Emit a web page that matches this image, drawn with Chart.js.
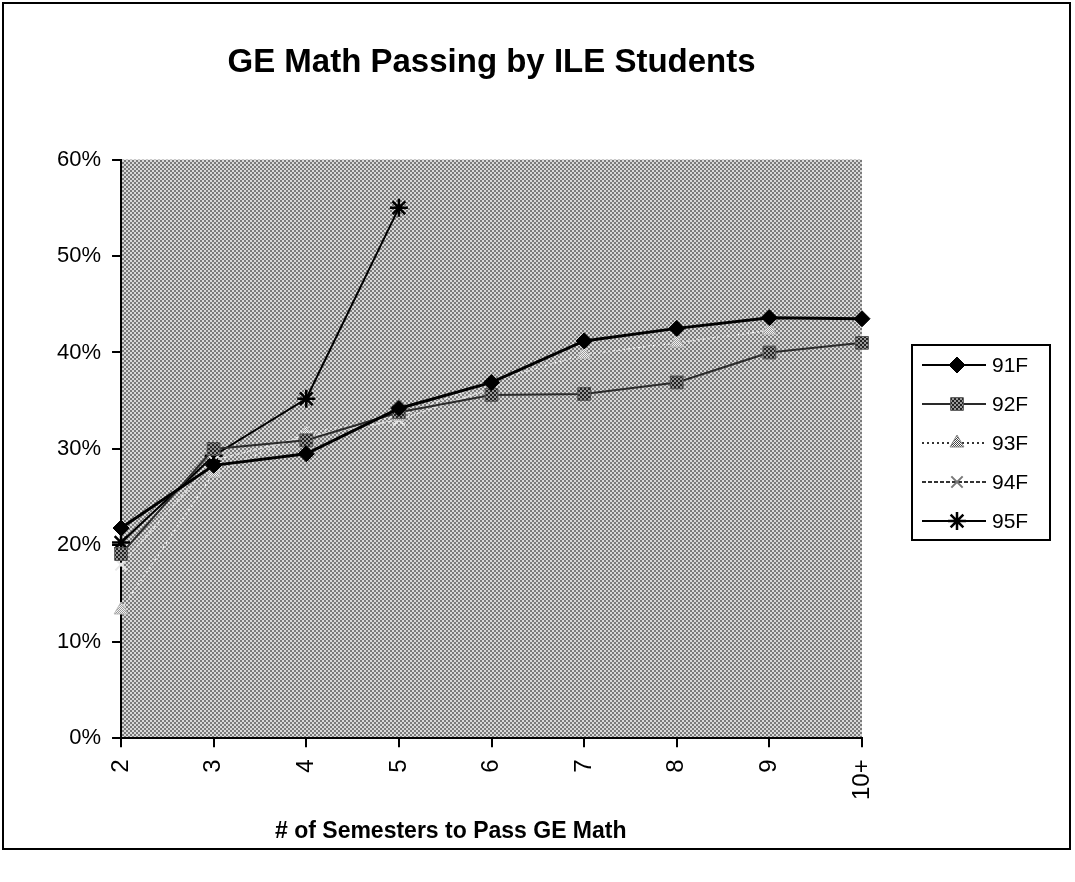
<!DOCTYPE html>
<html>
<head>
<meta charset="utf-8">
<script src="https://cdn.jsdelivr.net/npm/chart.js@4/dist/chart.umd.min.js"></script>
<style>
  body { margin: 0; background: #fff; }
  #wrap { width: 1075px; height: 882px; }
</style>
</head>
<body>
<div id="wrap"><canvas id="ge-math-chart" width="1075" height="882"></canvas></div>
<script>
const semesters = ['2','3','4','5','6','7','8','9','10+'];
const yTicks = [0,10,20,30,40,50,60];
const f91 = [21.8, 28.3, 29.5, 34.2, 36.9, 41.2, 42.5, 43.6, 43.5];
const f92 = [19.1, 30.0, 30.9, 33.8, 35.6, 35.7, 36.9, 40.0, 41.0];
const f93 = [13.3, 27.5, 31.6, 33.4, 37.0, 39.8, 41.0, 42.3, null];
const f94 = [18.0, 28.8, 31.3, 33.0, 36.3, null, null, null, null];
const f95 = [20.3, 29.3, 35.2, 55.0, null, null, null, null, null];
const xTitle = '# of Semesters to Pass GE Math';

const FONT = "'Liberation Sans', Arial, sans-serif";

// halftone-ish checker patterns
function checker(dark, light, cell) {
    let c = document.createElement('canvas');
    c.width = cell * 2; c.height = cell * 2;
    let g = c.getContext('2d');
    g.fillStyle = light; g.fillRect(0, 0, c.width, c.height);
    g.fillStyle = dark;
    g.fillRect(0, 0, cell, cell);
    g.fillRect(cell, cell, cell, cell);
    return g.createPattern(c, 'repeat');
}
const ctx = document.getElementById('ge-math-chart').getContext('2d');
const plotFill = checker('#7a7a7a', '#d8d8d8', 2);
const darkFill = checker('#222222', '#9a9a9a', 2);
const lightFill = checker('#9a9a9a', '#f2f2f2', 1);
const legendLight = checker('#444444', '#ffffff', 1);

const backdrop = {
    id: 'backdrop',
    beforeDraw(chart) {
        const c = chart.ctx, a = chart.chartArea;
        c.save();
        c.fillStyle = '#fff';
        c.fillRect(0, 0, chart.width, chart.height);
        c.fillStyle = plotFill;
        c.fillRect(a.left, a.top, a.right - a.left, a.bottom - a.top);
        c.strokeStyle = '#000';
        c.lineWidth = 2;
        c.strokeRect(3, 3, chart.width - 8, 846);
        c.restore();
    },
    // axis title sits a little left of the plot centre in the original
    afterDraw(chart) {
        const c = chart.ctx, a = chart.chartArea;
        c.save();
        c.fillStyle = '#000';
        c.font = 'bold 23px ' + FONT;
        c.textAlign = 'center';
        c.textBaseline = 'middle';
        c.fillText(xTitle, a.left + (a.right - a.left) * 0.445, 832);
        c.restore();
    }
};

// legend drawn as line + marker like the original, with a box round it
const boxLegend = {
    id: 'boxLegend',
    afterDraw(chart) {
        const c = chart.ctx, a = chart.chartArea;
        const left = a.right + 50, top = 345, w = 138, h = 195;
        c.save();
        c.fillStyle = '#fff';
        c.fillRect(left, top, w, h);
        c.strokeStyle = '#000';
        c.lineWidth = 2;
        c.strokeRect(left, top, w, h);
        chart.data.datasets.forEach((ds, i) => {
            const y = top + 20 + i * 39;
            c.save();
            c.strokeStyle = ds.legendLine || ds.borderColor;
            c.lineWidth = 2;
            c.setLineDash(ds.borderDash || []);
            c.beginPath();
            c.moveTo(left + 10, y);
            c.lineTo(left + 74, y);
            c.stroke();
            c.restore();
            c.fillStyle = ds.legendFill || ds.pointBackgroundColor;
            c.strokeStyle = ds.legendPoint || ds.pointBorderColor;
            c.lineWidth = ds.pointBorderWidth || 1;
            Chart.helpers.drawPoint(c, {
                pointStyle: ds.pointStyle,
                radius: ds.pointRadius,
                borderWidth: ds.pointBorderWidth || 1,
                rotation: 0
            }, left + 45, y);
            c.fillStyle = '#000';
            c.font = '21px ' + FONT;
            c.textBaseline = 'middle';
            c.fillText(ds.label, left + 80, y + 1);
        });
        c.restore();
    }
};

new Chart(ctx, {
    type: 'line',
    data: {
        labels: semesters,
        datasets: [{
            label: '91F',
            data: f91,
            borderColor: '#000',
            borderWidth: 3,
            pointStyle: 'rectRot',
            pointRadius: 8,
            pointBackgroundColor: '#000',
            pointBorderColor: '#000',
            pointBorderWidth: 1
        },
        {
            label: '92F',
            data: f92,
            borderColor: '#2a2a2a',
            borderWidth: 2,
            pointStyle: 'rect',
            pointRadius: 9,
            pointBackgroundColor: darkFill,
            pointBorderColor: '#555',
            pointBorderWidth: 1
        },
        {
            label: '93F',
            data: f93,
            borderColor: '#e6e6e6',
            legendLine: '#333',
            legendFill: legendLight,
            legendPoint: '#888',
            borderWidth: 1.5,
            borderDash: [2, 3],
            pointStyle: 'triangle',
            pointRadius: 8,
            pointBackgroundColor: lightFill,
            pointBorderColor: '#bbb',
            pointBorderWidth: 1
        },
        {
            label: '94F',
            data: f94,
            borderColor: '#dddddd',
            legendLine: '#333',
            legendPoint: '#777',
            borderWidth: 1.5,
            borderDash: [4, 2],
            pointStyle: 'crossRot',
            pointRadius: 8,
            pointBackgroundColor: '#ddd',
            pointBorderColor: '#e8e8e8',
            pointBorderWidth: 2
        },
        {
            label: '95F',
            data: f95,
            borderColor: '#000',
            borderWidth: 2,
            pointStyle: 'star',
            pointRadius: 9,
            pointBackgroundColor: '#000',
            pointBorderColor: '#000',
            pointBorderWidth: 2.5
        }]
    },
    options: {
        responsive: false,
        animation: false,
        devicePixelRatio: 1,
        spanGaps: false,
        elements: { line: { tension: 0 } },
        layout: { padding: { left: 46, right: 213, top: 0, bottom: 70 } },
        plugins: {
            legend: { display: false },
            tooltip: { enabled: false },
            title: {
                display: true,
                text: 'GE Math Passing by ILE Students',
                fullSize: false,
                color: '#000',
                font: { family: FONT, size: 33, weight: 'bold' },
                padding: { top: 43, bottom: 77 }
            }
        },
        scales: {
            x: {
                offset: false,
                grid: { drawOnChartArea: false, color: '#000', lineWidth: 2, tickLength: 9 },
                border: { color: '#000', width: 2 },
                ticks: {
                    color: '#000',
                    minRotation: 90,
                    maxRotation: 90,
                    padding: 12,
                    font: { family: FONT, size: 24 }
                }
            },
            y: {
                min: yTicks[0],
                max: yTicks[yTicks.length - 1],
                grid: { drawOnChartArea: false, color: '#000', lineWidth: 2, tickLength: 9 },
                border: { color: '#000', width: 2 },
                afterBuildTicks(scale) {
                    scale.ticks = yTicks.map(v => ({ value: v }));
                },
                ticks: {
                    color: '#000',
                    padding: 11,
                    font: { family: FONT, size: 22 },
                    callback: v => v + '%'
                }
            }
        }
    },
    plugins: [backdrop, boxLegend]
});
</script>
</body>
</html>
